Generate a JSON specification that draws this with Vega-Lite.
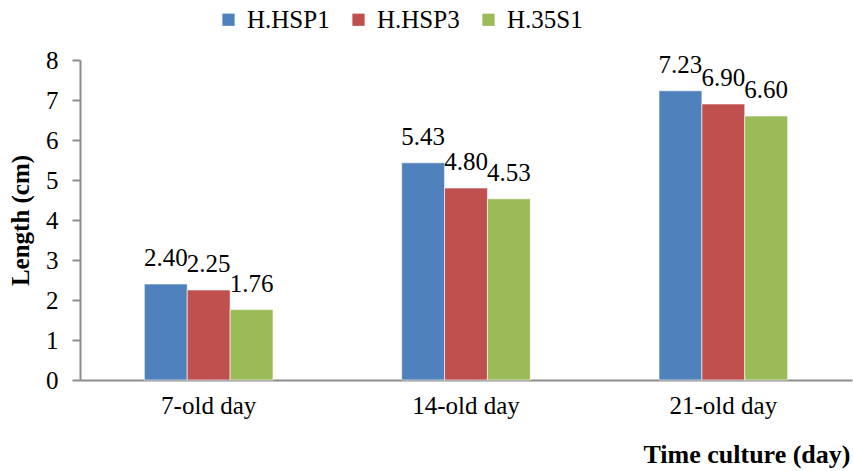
{
  "$schema": "https://vega.github.io/schema/vega-lite/v6.json",
  "width": 772,
  "height": 320,
  "autosize": {"type": "none"},
  "padding": {"left": 80, "top": 60, "right": 1, "bottom": 91},
  "background": "white",
  "config": {
    "view": {"stroke": null},
    "font": "Liberation Serif",
    "axis": {"labelFont": "Liberation Serif", "titleFont": "Liberation Serif", "labelColor": "black", "titleColor": "black", "grid": false},
    "legend": {"labelFont": "Liberation Serif"}
  },
  "data": {
    "values": [
      {"period": "7-old day", "series": "H.HSP1", "length": 2.40},
      {"period": "7-old day", "series": "H.HSP3", "length": 2.25},
      {"period": "7-old day", "series": "H.35S1", "length": 1.76},
      {"period": "14-old day", "series": "H.HSP1", "length": 5.43},
      {"period": "14-old day", "series": "H.HSP3", "length": 4.80},
      {"period": "14-old day", "series": "H.35S1", "length": 4.53},
      {"period": "21-old day", "series": "H.HSP1", "length": 7.23},
      {"period": "21-old day", "series": "H.HSP3", "length": 6.90},
      {"period": "21-old day", "series": "H.35S1", "length": 6.60}
    ]
  },
  "encoding": {
    "x": {
      "field": "period",
      "type": "nominal",
      "sort": ["7-old day", "14-old day", "21-old day"],
      "scale": {"paddingInner": 0.5, "paddingOuter": 0.25},
      "axis": {
        "title": "Time culture (day)",
        "labelAngle": 0,
        "labelFontSize": 25,
        "labelPadding": 13,
        "ticks": false,
        "domainColor": "#8c8c8c",
        "domainWidth": 2,
        "titleFontSize": 26,
        "titleFontWeight": "bold",
        "titleAnchor": "end",
        "titleAlign": "right",
        "titleBaseline": "alphabetic",
        "titleX": 770,
        "titleY": 82
      }
    },
    "xOffset": {
      "field": "series",
      "type": "nominal",
      "sort": ["H.HSP1", "H.HSP3", "H.35S1"],
      "scale": {"paddingInner": 0, "paddingOuter": 0}
    },
    "y": {
      "field": "length",
      "type": "quantitative",
      "scale": {"domain": [0, 8], "nice": false},
      "axis": {
        "title": "Length (cm)",
        "values": [0, 1, 2, 3, 4, 5, 6, 7, 8],
        "labelFontSize": 25,
        "labelPadding": 14,
        "tickSize": 8,
        "tickColor": "#8c8c8c",
        "tickWidth": 2,
        "domainColor": "#8c8c8c",
        "domainWidth": 2,
        "titleFontSize": 25,
        "titleFontWeight": "bold",
        "titleAngle": 270,
        "titleAlign": "center",
        "titleBaseline": "middle",
        "titleX": -60,
        "titleY": 160
      }
    }
  },
  "layer": [
    {
      "mark": {"type": "bar", "stroke": "#ffffff", "strokeOpacity": 0.6, "strokeWidth": 1},
      "encoding": {
        "color": {
          "field": "series",
          "type": "nominal",
          "sort": ["H.HSP1", "H.HSP3", "H.35S1"],
          "scale": {"domain": ["H.HSP1", "H.HSP3", "H.35S1"], "range": ["#4F81BD", "#C0504D", "#9BBB59"]},
          "legend": {
            "title": null,
            "orient": "none",
            "direction": "horizontal",
            "legendX": 136,
            "legendY": -53,
            "symbolType": "square",
            "symbolSize": 150,
            "symbolStrokeWidth": 0,
            "labelFontSize": 25,
            "labelColor": "black",
            "labelOffset": 6,
            "columnPadding": 16
          }
        }
      }
    },
    {
      "mark": {"type": "text", "fontSize": 25, "baseline": "alphabetic", "dy": -18, "color": "black"},
      "encoding": {
        "text": {"field": "length", "type": "quantitative", "format": ".2f"}
      }
    }
  ]
}
